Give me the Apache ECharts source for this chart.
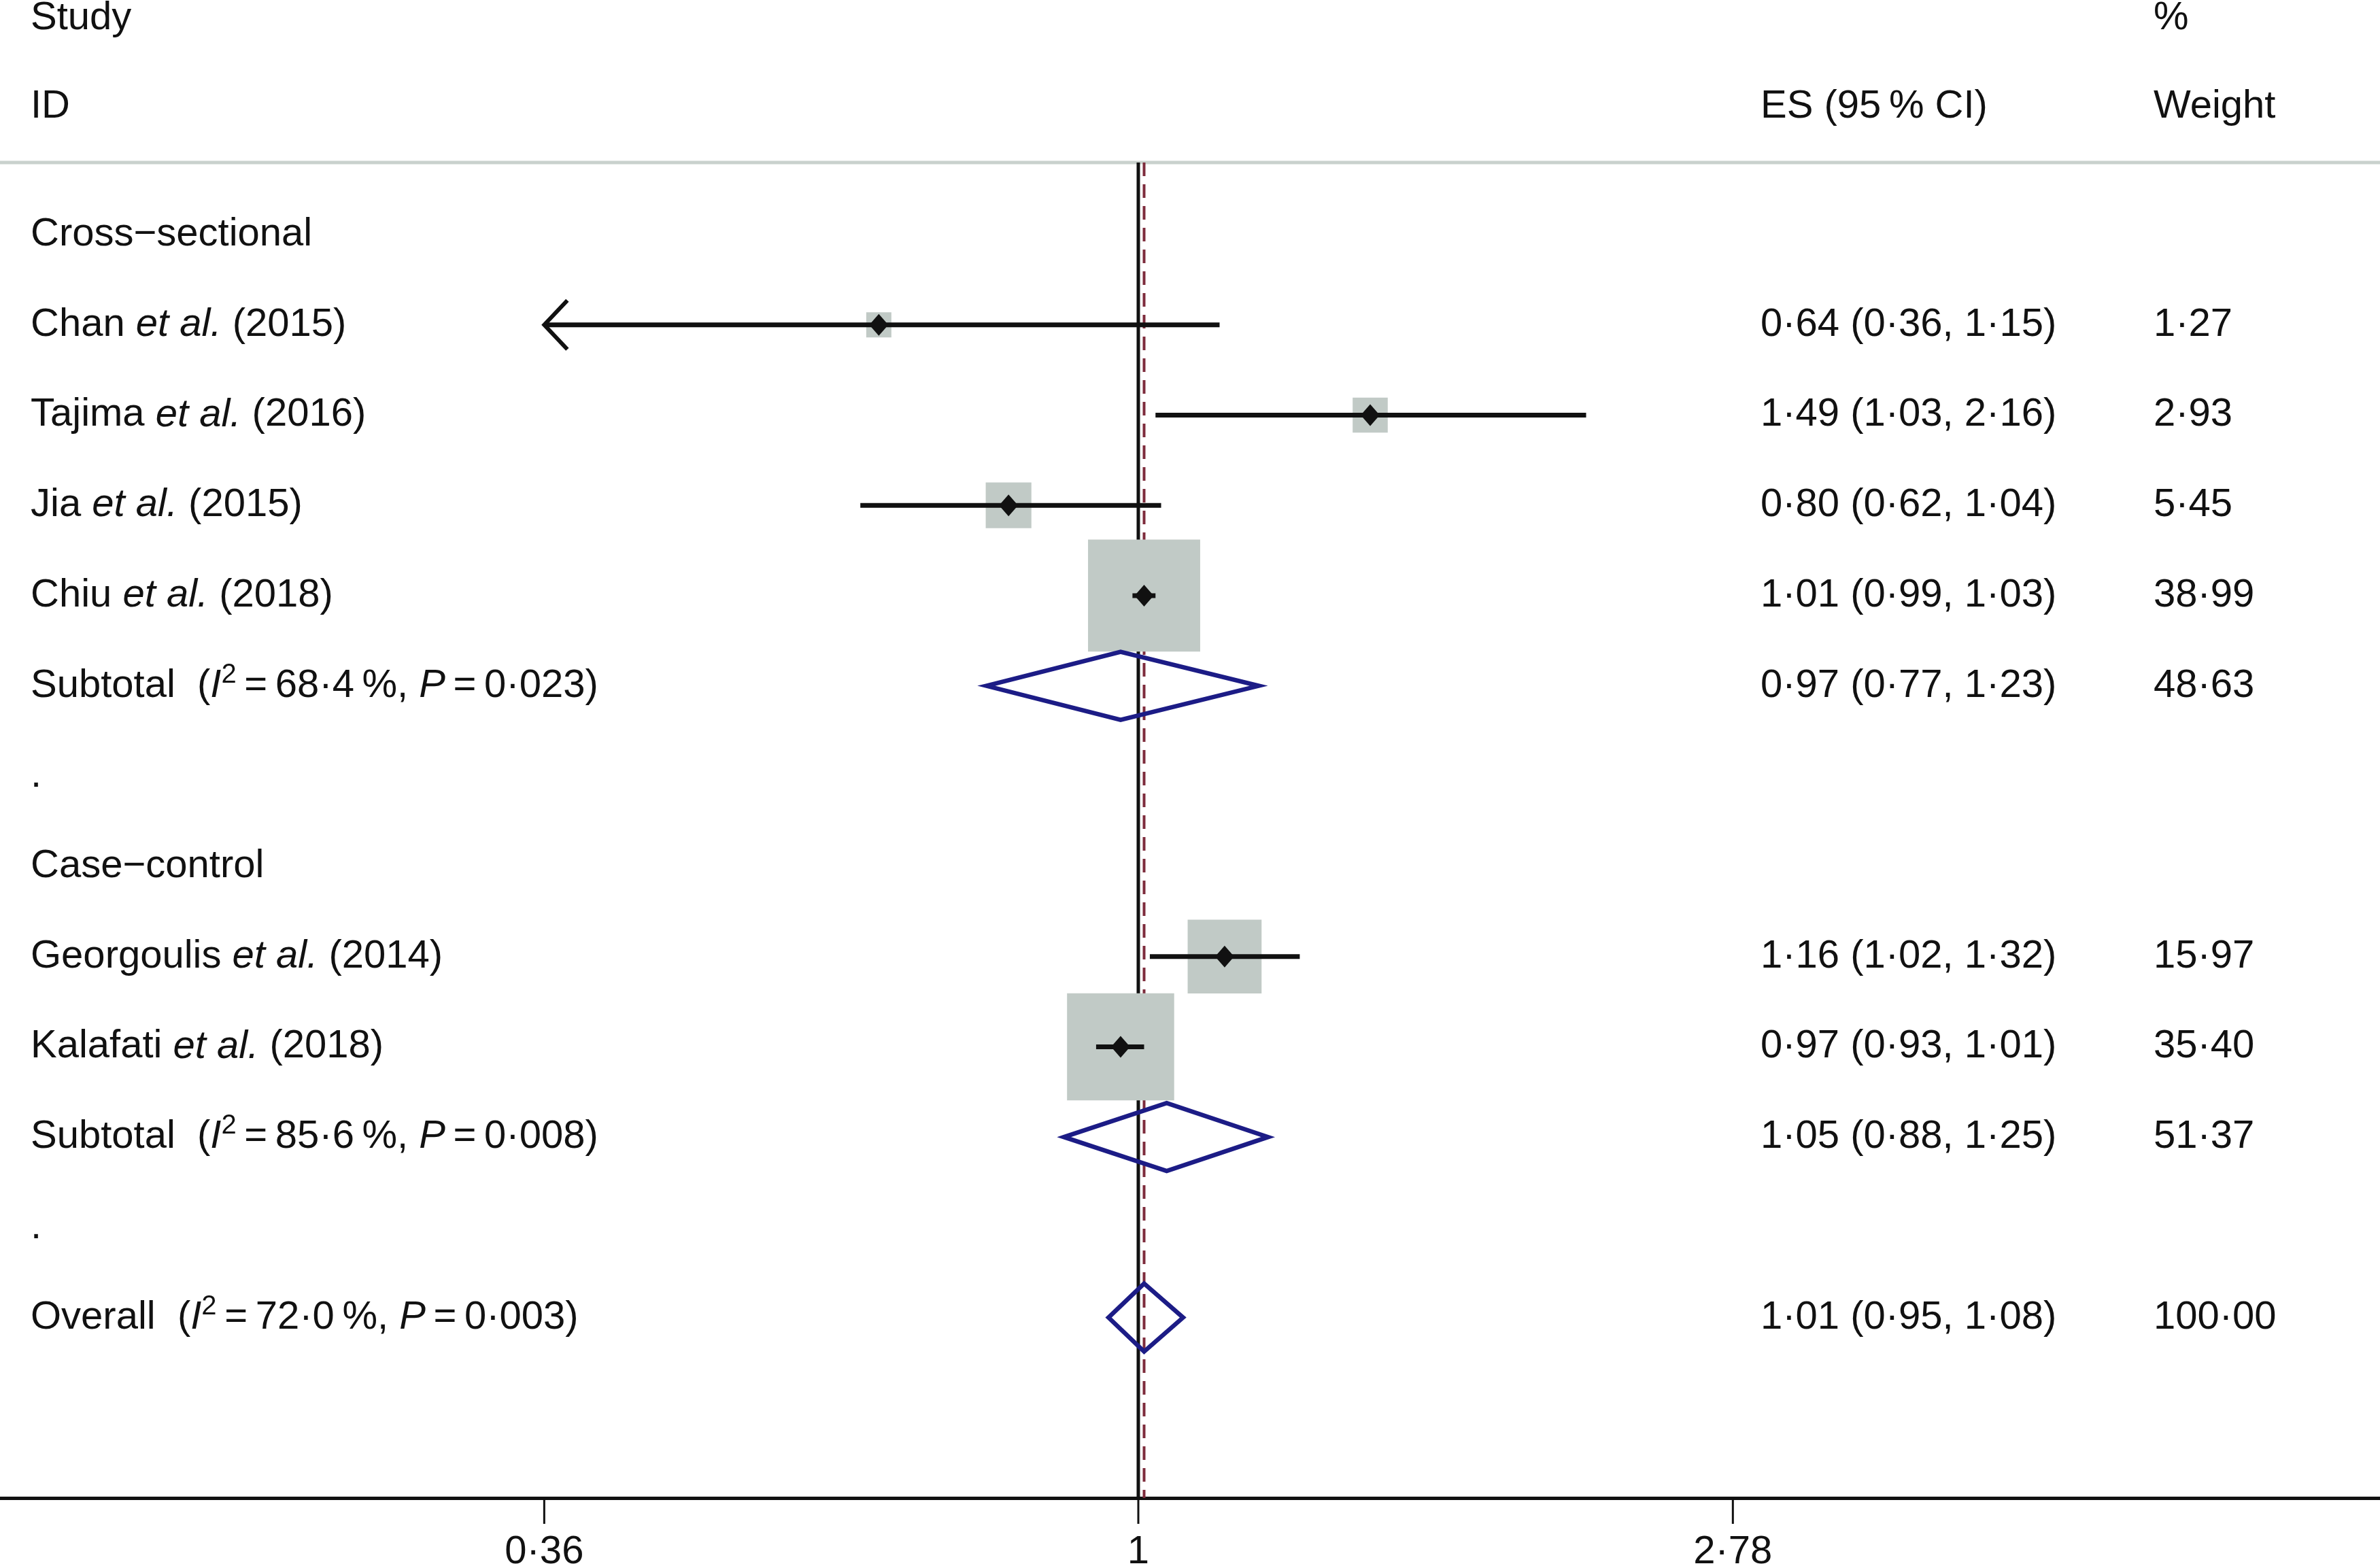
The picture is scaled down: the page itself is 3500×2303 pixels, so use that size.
<!DOCTYPE html>
<html>
<head>
<meta charset="utf-8">
<title>Forest plot</title>
<script src="https://cdn.jsdelivr.net/npm/echarts@6/dist/echarts.min.js"></script>
<style>
  html, body { margin: 0; padding: 0; background: #fff; }
  #chart { width: 3500px; height: 2303px; }
</style>
</head>
<body>
<div id="chart"></div>
<script>
// single studies
var studyNames = ['Chan', 'Tajima', 'Jia', 'Chiu', 'Georgoulis', 'Kalafati'];
var studyYears = ['2015', '2016', '2015', '2018', '2014', '2018'];
var studyRows = [1, 2, 3, 4, 8, 9];
var studyEs = [0.64, 1.49, 0.80, 1.01, 1.16, 0.97];
var studyLow = [0.36, 1.03, 0.62, 0.99, 1.02, 0.93];
var studyHigh = [1.15, 2.16, 1.04, 1.03, 1.32, 1.01];
var studyWeight = [1.27, 2.93, 5.45, 38.99, 15.97, 35.40];

// pooled estimates
var poolNames = ['Subtotal', 'Subtotal', 'Overall'];
var poolI2 = ['68·4', '85·6', '72·0'];
var poolP = ['0·023', '0·008', '0·003'];
var poolRows = [5, 10, 12];
var poolEs = [0.97, 1.05, 1.01];
var poolLow = [0.77, 0.88, 0.95];
var poolHigh = [1.23, 1.25, 1.08];
var poolWeight = [48.63, 51.37, 100.00];

// group headings and blank rows
var groupNames = ['Cross−sectional', 'Case−control'];
var groupRows = [0, 7];
var blankRows = [6, 11];

// x axis ticks
var xTicks = [0.36, 1, 2.78];
var xTickLabels = ['0·36', '1', '2·78'];

var FONT = '"Liberation Sans", Arial, Helvetica, sans-serif';
var TXT = '#111111';
var FS = 58;
var X_MIN = 0.1412, X_MAX = 8.46;
var Y_MIN = -2.6, Y_MAX = 14;
var SEP_ROW = -0.8;
var COL_LABEL = 45, COL_ES = 2589, COL_W = 3167;
var TS = '\u2009';

function fmt(v) {
  return v.toFixed(2).replace('.', '·');
}

var rich = {
  n: { fill: TXT, fontSize: FS, fontFamily: FONT, lineHeight: 72, verticalAlign: 'middle' },
  i: { fill: TXT, fontSize: FS, fontFamily: FONT, fontStyle: 'italic', lineHeight: 72, verticalAlign: 'middle' },
  s: { fill: TXT, fontSize: 40, fontFamily: FONT, lineHeight: 36, verticalAlign: 'top' }
};

// text table, one entry per line of the plot
var tableRows = [
  { row: -2.4, label: '{n|Study}', es: '', w: '%' },
  { row: -1.42, label: '{n|ID}', es: 'ES (95' + TS + '% CI)', w: 'Weight' }
];
groupNames.forEach(function (g, i) {
  tableRows.push({ row: groupRows[i], label: '{n|' + g + '}', es: '', w: '' });
});
blankRows.forEach(function (r) {
  tableRows.push({ row: r, label: '{n|.}', es: '', w: '' });
});
studyNames.forEach(function (s, i) {
  tableRows.push({
    row: studyRows[i],
    label: '{n|' + s + ' }{i|et al.}{n| (' + studyYears[i] + ')}',
    es: fmt(studyEs[i]) + ' (' + fmt(studyLow[i]) + ', ' + fmt(studyHigh[i]) + ')',
    w: fmt(studyWeight[i])
  });
});
poolNames.forEach(function (s, i) {
  tableRows.push({
    row: poolRows[i],
    label: '{n|' + s + '  (}{i|I}{s|2}{n|' + TS + '=' + TS + poolI2[i] + TS + '%, }{i|P}{n|' + TS + '=' + TS + poolP[i] + ')}',
    es: fmt(poolEs[i]) + ' (' + fmt(poolLow[i]) + ', ' + fmt(poolHigh[i]) + ')',
    w: fmt(poolWeight[i])
  });
});

function textEl(x, y, text, extra) {
  var style = {
    text: text, x: 0, y: 0, fill: TXT, fontSize: FS, fontFamily: FONT,
    align: 'left', verticalAlign: 'middle', textAlign: 'left', textVerticalAlign: 'middle'
  };
  for (var k in extra) style[k] = extra[k];
  return { type: 'text', x: x, y: y, style: style };
}

var myChart = echarts.init(document.getElementById('chart'), null, { renderer: 'canvas' });

var option = {
  backgroundColor: '#ffffff',
  animation: false,
  grid: { left: 0, right: 0, top: 0, bottom: 100, containLabel: false, outerBoundsMode: 'none' },
  xAxis: {
    type: 'log',
    logBase: Math.E,
    min: X_MIN,
    max: X_MAX,
    axisLine: { show: true, onZero: false, lineStyle: { color: TXT, width: 5 } },
    axisTick: { show: false },
    axisLabel: { show: false },
    splitLine: { show: false },
    minorTick: { show: false }
  },
  yAxis: {
    type: 'value',
    inverse: true,
    min: Y_MIN,
    max: Y_MAX,
    show: false,
    splitLine: { show: false }
  },
  series: [
    {
      // separator + line of no effect
      type: 'custom',
      z: 1,
      clip: false,
      data: [[1, SEP_ROW]],
      renderItem: function (params, api) {
        var top = api.coord([1, SEP_ROW]);
        var bot = api.coord([1, Y_MAX]);
        var l = api.coord([X_MIN, SEP_ROW]);
        var r = api.coord([X_MAX, SEP_ROW]);
        return {
          type: 'group',
          children: [
            { type: 'rect', shape: { x: l[0], y: l[1] - 2.5, width: r[0] - l[0], height: 5 }, style: { fill: '#c9d1cd' } },
            { type: 'line', shape: { x1: top[0], y1: top[1], x2: bot[0], y2: bot[1] }, style: { stroke: TXT, lineWidth: 5 } }
          ]
        };
      }
    },
    {
      // overall effect dashed line
      type: 'custom',
      z: 1,
      clip: false,
      data: [[poolEs[2], SEP_ROW]],
      renderItem: function (params, api) {
        var top = api.coord([api.value(0), SEP_ROW]);
        var bot = api.coord([api.value(0), Y_MAX]);
        return {
          type: 'line',
          shape: { x1: top[0], y1: top[1], x2: bot[0], y2: bot[1] },
          style: { stroke: '#7e2c3c', lineWidth: 4, lineDash: [20, 12] }
        };
      }
    },
    {
      // weight boxes
      type: 'custom',
      z: 2,
      clip: false,
      data: studyEs.map(function (v, i) { return [v, studyRows[i], studyWeight[i]]; }),
      renderItem: function (params, api) {
        var c = api.coord([api.value(0), api.value(1)]);
        var side = 8.8 + 25 * Math.sqrt(api.value(2));
        return {
          type: 'rect',
          shape: { x: c[0] - side / 2, y: c[1] - side / 2, width: side, height: side },
          style: { fill: '#c1cac6' }
        };
      }
    },
    {
      // confidence intervals + point estimates
      type: 'custom',
      z: 3,
      clip: false,
      data: studyEs.map(function (v, i) { return [v, studyRows[i], studyLow[i], studyHigh[i]]; }),
      renderItem: function (params, api) {
        var row = api.value(1);
        var lo = api.value(2), hi = api.value(3);
        var c = api.coord([api.value(0), row]);
        var xl = api.coord([Math.max(lo, xTicks[0]), row])[0];
        var xh = api.coord([hi, row])[0];
        var y = c[1];
        var kids = [
          { type: 'line', shape: { x1: xl, y1: y, x2: xh, y2: y }, style: { stroke: TXT, lineWidth: 7 } },
          { type: 'polygon', shape: { points: [[c[0] - 14, y], [c[0], y - 16], [c[0] + 14, y], [c[0], y + 16]] }, style: { fill: TXT } }
        ];
        if (lo <= xTicks[0]) {
          kids.push({ type: 'polyline', shape: { points: [[xl + 34, y - 36], [xl, y], [xl + 34, y + 36]] }, style: { stroke: TXT, lineWidth: 6, fill: null } });
        }
        return { type: 'group', children: kids };
      }
    },
    {
      // pooled diamonds
      type: 'custom',
      z: 4,
      clip: false,
      data: poolEs.map(function (v, i) { return [v, poolRows[i], poolLow[i], poolHigh[i]]; }),
      renderItem: function (params, api) {
        var row = api.value(1);
        var c = api.coord([api.value(0), row]);
        var xl = api.coord([api.value(2), row])[0];
        var xh = api.coord([api.value(3), row])[0];
        var y = c[1];
        return {
          type: 'polygon',
          shape: { points: [[xl, y], [c[0], y - 50], [xh, y], [c[0], y + 50]] },
          style: { fill: null, stroke: '#1c1c86', lineWidth: 6.5, lineJoin: 'miter' }
        };
      }
    },
    {
      // x axis ticks and labels
      type: 'custom',
      z: 5,
      clip: false,
      data: xTicks.map(function (v) { return [v, Y_MAX]; }),
      renderItem: function (params, api) {
        var p = api.coord([api.value(0), Y_MAX]);
        return {
          type: 'group',
          children: [
            { type: 'line', shape: { x1: p[0], y1: p[1], x2: p[0], y2: p[1] + 38 }, style: { stroke: TXT, lineWidth: 3 } },
            textEl(p[0], p[1] + 80, xTickLabels[params.dataIndex], { align: 'center', textAlign: 'center' })
          ]
        };
      }
    },
    {
      // table text
      type: 'custom',
      z: 5,
      clip: false,
      data: tableRows.map(function (r) { return [1, r.row]; }),
      renderItem: function (params, api) {
        var r = tableRows[params.dataIndex];
        var y = api.coord([1, r.row])[1];
        var kids = [textEl(COL_LABEL, y, r.label, { rich: rich })];
        if (r.es) kids.push(textEl(COL_ES, y, r.es, {}));
        if (r.w) kids.push(textEl(COL_W, y, r.w, {}));
        return { type: 'group', children: kids };
      }
    }
  ]
};

myChart.setOption(option);
</script>
</body>
</html>
